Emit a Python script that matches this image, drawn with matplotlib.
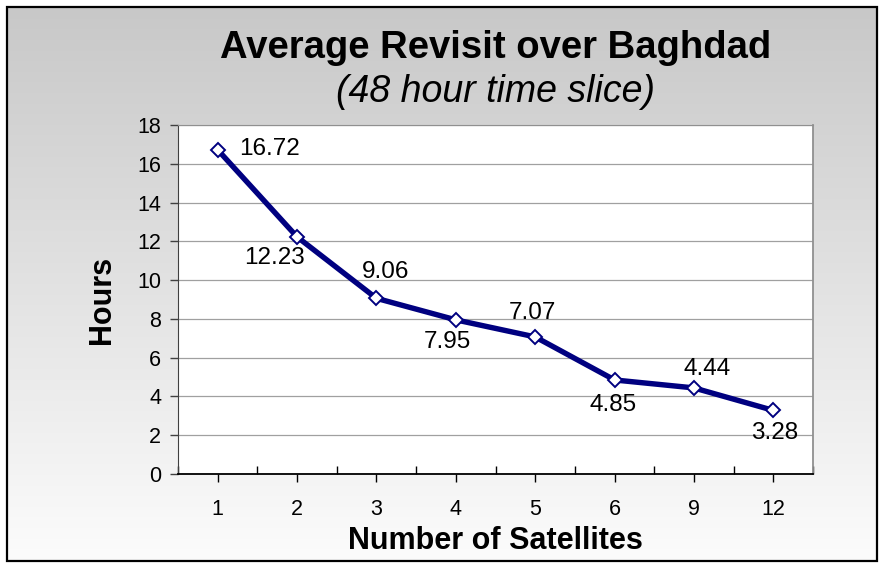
import matplotlib
matplotlib.use("Agg")
import matplotlib.pyplot as plt
import numpy as np
from matplotlib.patches import Rectangle

plt.rcParams['font.family'] = ['Liberation Sans', 'DejaVu Sans']

# ---- data ----
satellites = ["1", "2", "3", "4", "5", "6", "9", "12"]
hours = [16.72, 12.23, 9.06, 7.95, 7.07, 4.85, 4.44, 3.28]
value_labels = ["16.72", "12.23", "9.06", "7.95", "7.07", "4.85", "4.44", "3.28"]

# label offsets (pixels, x right / y down) - styling only
label_offsets_px = [(52, -1), (-23, 21), (9, -26), (-8, 22), (-3, -24), (-1, 25), (13, -19), (1, 23)]

W, H = 884, 563
fig = plt.figure(figsize=(W / 100, H / 100), dpi=100)
fig.patch.set_facecolor('white')

# background gradient panel with black border
bg = fig.add_axes([0, 0, 1, 1], zorder=0)
bg.axis('off')
grad = np.linspace(200, 252, 256).reshape(-1, 1) / 255.0
grad_rgb = np.dstack([grad, grad, grad])
bg.imshow(grad_rgb, extent=[7, 877, 561, 7], aspect='auto', interpolation='bilinear')
bg.add_patch(Rectangle((7, 7), 870, 554, fill=False, edgecolor='black', linewidth=1.6))
bg.set_xlim(0, W)
bg.set_ylim(H, 0)

# main axes
ax = fig.add_axes([178 / W, (H - 474) / H, 635 / W, 349 / H], zorder=1)
ax.set_facecolor('white')
x = np.arange(len(satellites))
navy = '#000080'
ax.plot(x, hours, color=navy, linewidth=3.9, marker='D', markersize=7.5,
        markerfacecolor='white', markeredgecolor=navy, markeredgewidth=1.4,
        clip_on=False, zorder=3)

ax.set_xlim(-0.5, len(satellites) - 0.5)
ax.set_ylim(0, 18)
ax.set_yticks(np.arange(0, 19, 2))
ax.set_xticks(x)
ax.set_xticklabels(satellites)
ax.set_xticks(np.arange(-0.5, len(satellites), 1.0), minor=True)
ax.yaxis.grid(True, color='#a0a0a0', linewidth=0.9)
ax.set_axisbelow(True)

ax.tick_params(axis='x', which='major', direction='out', length=6, width=1,
               labelsize=15.5, pad=12, color='black')
ax.tick_params(axis='x', which='minor', direction='in', length=6, width=1, color='black')
ax.tick_params(axis='y', which='major', direction='out', length=6, width=1,
               labelsize=15.5, pad=6, color='#404040')

ax.spines['left'].set_color('#404040')
ax.spines['bottom'].set_color('black')
ax.spines['bottom'].set_linewidth(1.3)
ax.spines['top'].set_color('#909090')
ax.spines['right'].set_color('#909090')
ax.spines['right'].set_linewidth(1.3)

for xi, yi, lab, (dx, dy) in zip(x, hours, value_labels, label_offsets_px):
    ax.annotate(lab, (xi, yi), xytext=(dx * 0.72, -dy * 0.72), textcoords='offset points',
                ha='center', va='center', fontsize=17.5, color='black', zorder=4)

ax.set_xlabel('Number of Satellites', fontsize=22, fontweight='bold', labelpad=4)
ax.set_ylabel('Hours', fontsize=22, fontweight='bold', labelpad=15)

fig.text(496 / W, 1 - 48 / H, 'Average Revisit over Baghdad', ha='center', va='center',
         fontsize=27.5, fontweight='bold')
fig.text(496 / W, 1 - 92 / H, '(48 hour time slice)', ha='center', va='center',
         fontsize=27, fontstyle='italic')

fig.savefig('out.png', dpi=100)
